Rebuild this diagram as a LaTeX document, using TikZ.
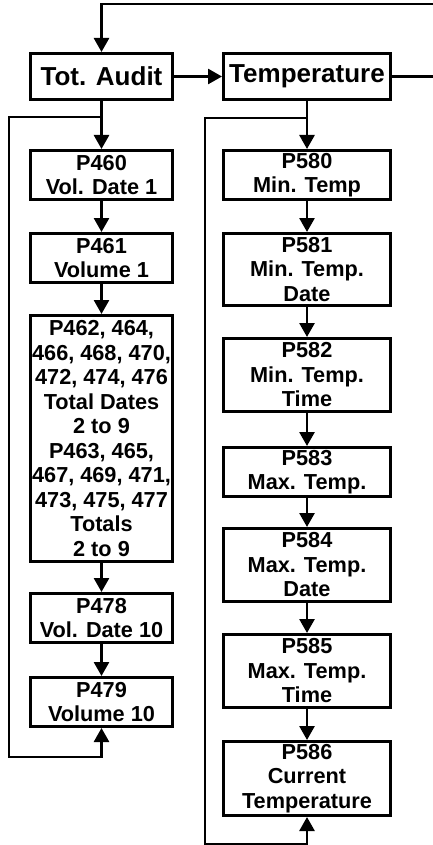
\documentclass[tikz,border=0pt]{standalone}
\usepackage{fontspec}
\setmainfont{Liberation Sans}
\usetikzlibrary{arrows.meta}

\begin{document}
\begin{tikzpicture}[x=1pt, y=-1pt, line width=2.7pt,
    box/.style={draw, align=center, inner sep=0pt, font=\bfseries\fontsize{21.7}{24.5}\selectfont},
    headbox/.style={box, minimum height=46.3pt, font=\bfseries\fontsize{26}{30}\selectfont},
    lbox/.style={box, minimum width=142.3pt},
    rbox/.style={box, minimum width=167.3pt},
    arr/.style={-{Triangle[length=14pt, width=15pt]}}]
    \useasboundingbox (0,0) rectangle (433,845);
    \node[headbox, minimum width=142.3pt] (audit) at (101.5, 76.5) {Tot. Audit};
    \node[headbox, minimum width=167.3pt] (temp) at (307, 76.5) {Temperature};
    \node[lbox, minimum height=49.3pt] (p460) at (101.5, 175) {P460\\Vol. Date 1};
    \node[lbox, minimum height=49.3pt] (p461) at (101.5, 258) {P461\\Volume 1};
    \node[lbox, minimum height=246.3pt] (p462) at (101.5, 438.5) {P462, 464,\\466, 468, 470,\\472, 474, 476\\Total Dates\\2 to 9\\P463, 465,\\467, 469, 471,\\473, 475, 477\\Totals\\2 to 9};
    \node[lbox, minimum height=49.3pt] (p478) at (101.5, 618) {P478\\Vol. Date 10};
    \node[lbox, minimum height=49.3pt] (p479) at (101.5, 702) {P479\\Volume 10};
    \node[rbox, minimum height=49.3pt] (p580) at (307, 175) {P580\\Min. Temp};
    \node[rbox, minimum height=72.3pt] (p581) at (307, 269.5) {P581\\Min. Temp.\\Date};
    \node[rbox, minimum height=73.3pt] (p582) at (307, 375) {P582\\Min. Temp.\\Time};
    \node[rbox, minimum height=49.3pt] (p583) at (307, 472) {P583\\Max. Temp.};
    \node[rbox, minimum height=73.3pt] (p584) at (307, 565) {P584\\Max. Temp.\\Date};
    \node[rbox, minimum height=73.3pt] (p585) at (307, 671) {P585\\Max. Temp.\\Time};
    \node[rbox, minimum height=74.3pt] (p586) at (307, 778.5) {P586\\Current\\Temperature};
    \coordinate (loopin) at (433, 4);
    \coordinate (loopout) at (433, 76.5);
    \coordinate (ljoin) at (101.5, 117);
    \coordinate (lback) at (9, 757);
    \coordinate (rjoin) at (307, 118);
    \coordinate (rback) at (205, 844);
    \draw[arr] (loopin) -| (audit.north);
    \draw[arr] (audit) -- (temp);
    \draw (temp) -- (loopout);
    \draw[arr] (audit) -- (p460);
    \draw[arr] (p460) -- (p461);
    \draw[arr] (p461) -- (p462);
    \draw[arr] (p462) -- (p478);
    \draw[arr] (p478) -- (p479);
    \draw[arr] (ljoin) -| (lback) -| (p479.south);
    \draw[arr] (temp) -- (p580);
    \draw[arr] (p580) -- (p581);
    \draw[arr] (p581) -- (p582);
    \draw[arr] (p582) -- (p583);
    \draw[arr] (p583) -- (p584);
    \draw[arr] (p584) -- (p585);
    \draw[arr] (p585) -- (p586);
    \draw[arr] (rjoin) -| (rback) -| (p586.south);
\end{tikzpicture}
\end{document}
